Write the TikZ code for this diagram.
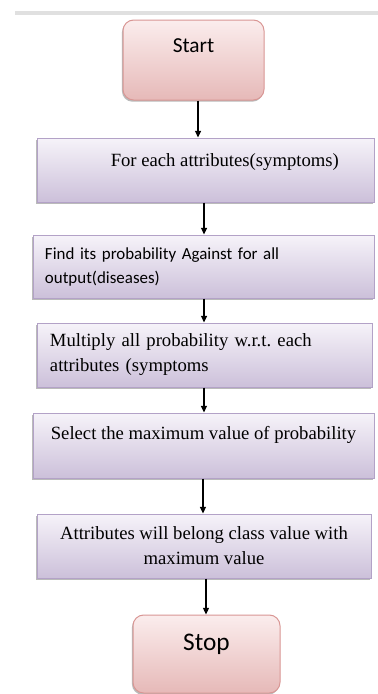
\documentclass[tikz,border=0pt]{standalone}
\usepackage{fontspec}
\setmainfont{Liberation Serif}
\setsansfont{Carlito}
\usepackage{tikz}
\usetikzlibrary{arrows.meta,shadows,positioning}
\definecolor{pinktop}{HTML}{FBEDED}
\definecolor{pinkbot}{HTML}{E6B9B8}
\definecolor{pinkline}{HTML}{D99694}
\definecolor{lavtop}{HTML}{F6F3F9}
\definecolor{lavbot}{HTML}{CCC0DA}
\definecolor{lavline}{HTML}{B3A2C7}
\frenchspacing

\begin{document}
\begin{tikzpicture}[x=0.75pt,y=-0.75pt,
  arr/.style={-{Triangle[length=5pt,width=4.5pt]},line width=0.9pt,black},
  shade/.style={drop shadow={shadow xshift=-0.8pt,shadow yshift=-1.3pt,fill=black!45,opacity=0.6}},
  terminal/.style={draw=pinkline,line width=0.75pt,rounded corners=8pt,top color=pinktop,bottom color=pinkbot,shade,font=\sffamily},
  stepbox/.style={draw=lavline,line width=0.75pt,top color=lavtop,bottom color=lavbot,shade}]
\fill[white] (0,0) rectangle (378,694);
\useasboundingbox (0,0) rectangle (378,694);
\draw[color=black!12,line width=2.5pt] (15,13)--(378,13);

\node[terminal,minimum width=105.75pt,minimum height=60pt,font=\sffamily\fontsize{16}{19}\selectfont,text depth=22pt] (start) at (193.5,60) {Start};
\node[stepbox,minimum width=252.75pt,minimum height=48pt,font=\fontsize{14}{17}\selectfont,text depth=15.5pt] (attr) at (205.5,170) {\hspace*{29pt}For each attributes(symptoms)};
\node[stepbox,minimum width=255.75pt,minimum height=47.25pt,inner xsep=9pt,text width=237.75pt,align=left,font=\sffamily\fontsize{12.7}{18}\selectfont] (prob) at (203.5,266.5) {Find its probability Against for all\\output(diseases)};
\node[stepbox,minimum width=251.25pt,minimum height=48pt,inner xsep=9.75pt,text width=231.75pt,align=left,font=\fontsize{14}{18.75}\selectfont] (mult) at (204.5,355) {Multiply all probability w.r.t. each\\attributes (symptoms};
\node[stepbox,minimum width=255.75pt,minimum height=48.75pt,font=\fontsize{14}{17}\selectfont,text depth=19.4pt] (sel) at (203.5,445.5) {Select the maximum value of probability};
\node[stepbox,minimum width=250.5pt,minimum height=48pt,align=center,font=\fontsize{14}{18.75}\selectfont] (cls) at (204,546) {Attributes will belong class value with\\maximum value};
\node[terminal,minimum width=110.25pt,minimum height=58.5pt,font=\sffamily\fontsize{19}{22}\selectfont,text depth=18pt] (stop) at (206.5,654) {Stop};

\draw[arr] ([xshift=3.4pt]start.south) -- ([xshift=3.4pt]start.south |- attr.north);
\draw[arr] ([xshift=-1.1pt]attr.south) -- ([xshift=-1.1pt]attr.south |- prob.north);
\draw[arr] ([xshift=0.4pt]prob.south) -- ([xshift=0.4pt]prob.south |- mult.north);
\draw[arr] ([xshift=-0.4pt]mult.south) -- ([xshift=-0.4pt]mult.south |- sel.north);
\draw[arr] ([xshift=-0.4pt]sel.south) -- ([xshift=-0.4pt]sel.south |- cls.north);
\draw[arr] ([xshift=1.5pt]cls.south) -- ([xshift=1.5pt]cls.south |- stop.north);

\end{tikzpicture}
\end{document}
